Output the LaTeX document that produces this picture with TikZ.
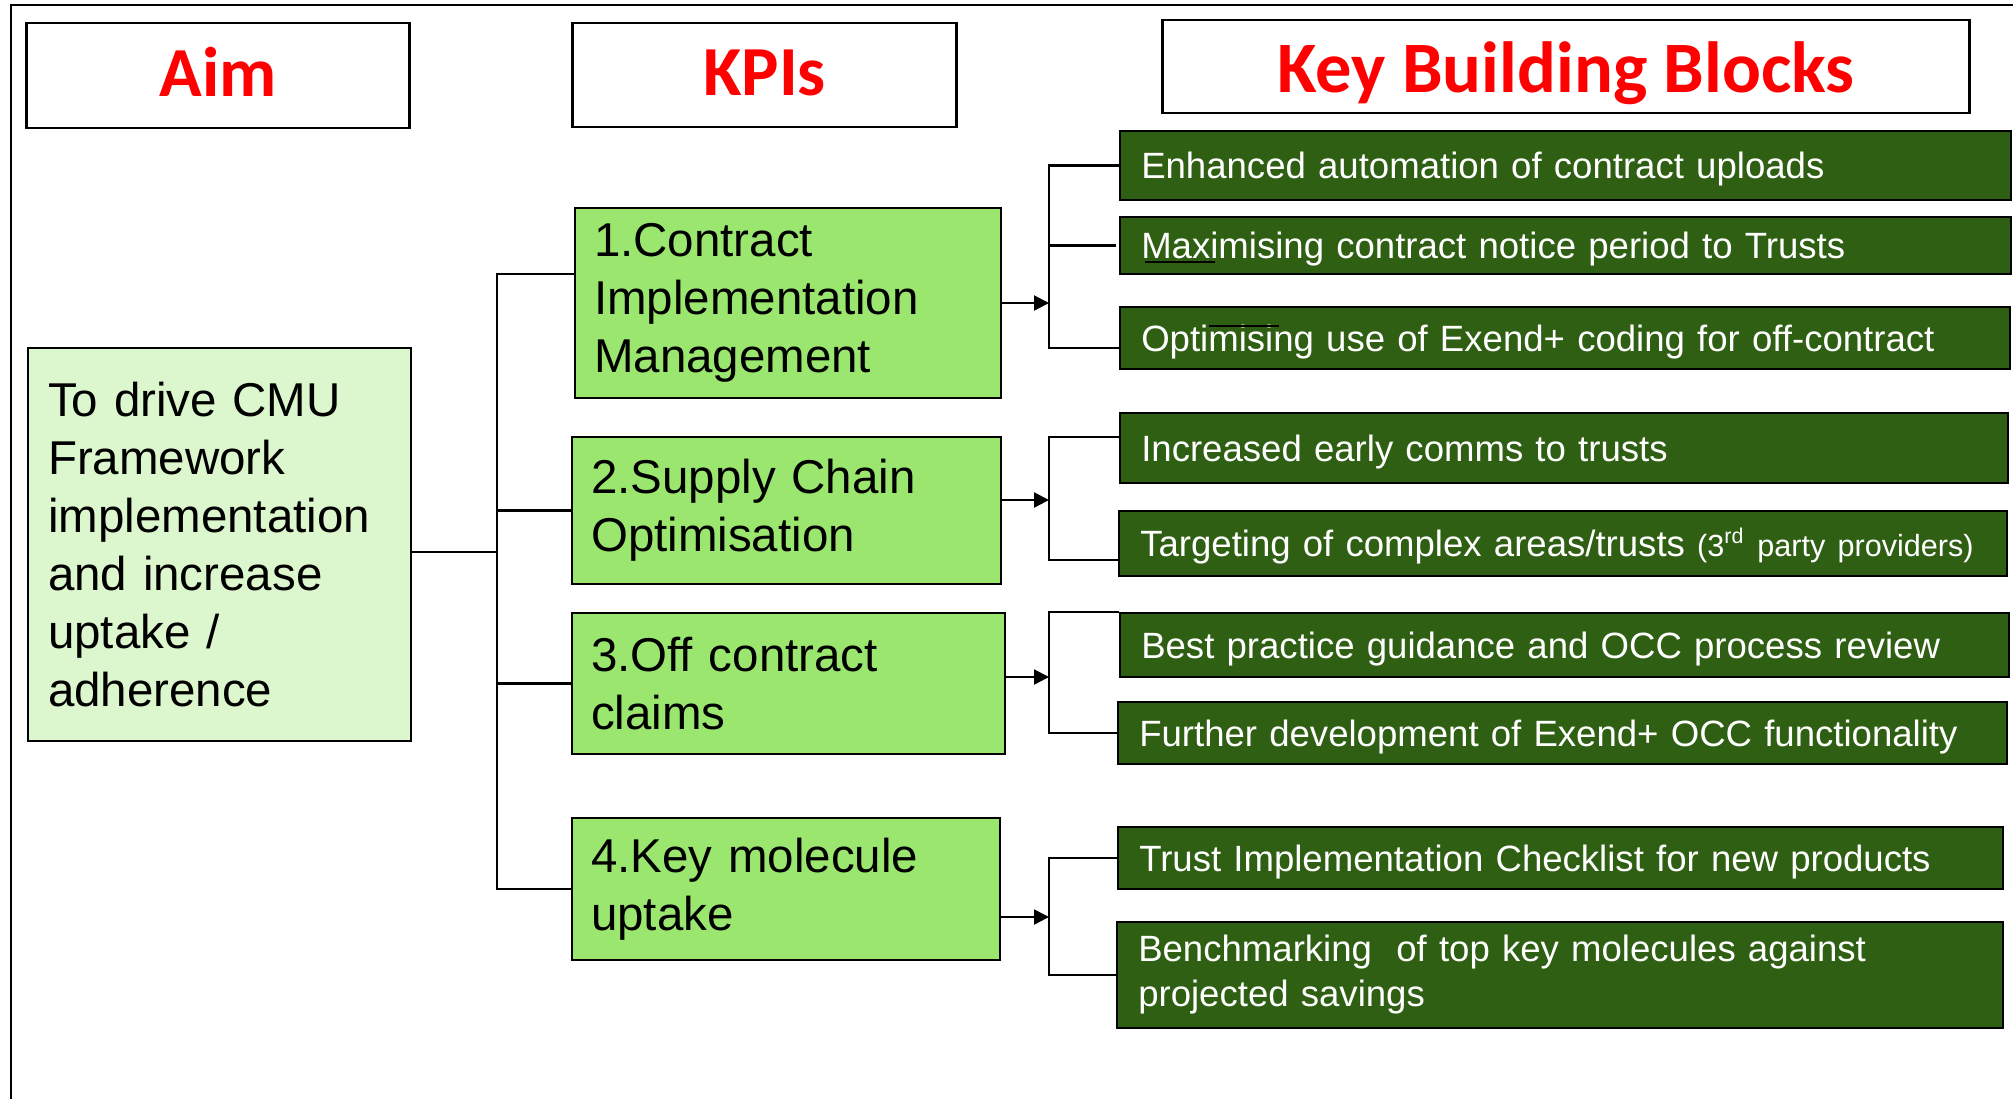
\documentclass[tikz,border=0pt]{standalone}
\usepackage{fontspec}
\setmainfont{Liberation Sans}
\newfontfamily\hdrfont{Carlito}
\usetikzlibrary{arrows.meta}

\begin{document}
\begin{tikzpicture}[x=0.01cm,y=-0.01cm,
  hdrbox/.style={draw,line width=0.8pt,fill=white,text=hdrred,inner sep=0pt,
    text height=0.41cm,text depth=0pt,font=\hdrfont\bfseries\fontsize{20}{24}\selectfont},
  aimbox/.style={draw,line width=0.6pt,fill=aimgreen,anchor=west,align=left,
    inner xsep=0.2cm,inner ysep=0pt,font=\fontsize{13.5}{16.5}\selectfont},
  kpibox/.style={draw,line width=0.6pt,fill=kpigreen,anchor=west,align=left,
    inner xsep=0.19cm,inner ysep=0pt,font=\fontsize{13.5}{16.5}\selectfont},
  blockbox/.style={draw,line width=0.7pt,fill=blockgreen,text=white,anchor=west,align=left,
    inner xsep=0.21cm,inner ysep=0pt,text height=9.6pt,text depth=2pt,
    font=\fontsize{10.4}{12.8}\selectfont},
  wire/.style={line width=0.6pt},
  feed/.style={line width=0.6pt,-{Triangle[length=0.15cm,width=0.15cm]}}]
\definecolor{hdrred}{RGB}{255,0,0}
\definecolor{aimgreen}{RGB}{220,246,205}
\definecolor{kpigreen}{RGB}{155,230,110}
\definecolor{blockgreen}{RGB}{47,95,19}
\useasboundingbox (0,0) rectangle (2013,1099);

% frame
\draw[wire] (2013,5) -- (11,5) -- (11,1099);

% column heads
\node[hdrbox,minimum width=3.82cm,minimum height=1.05cm] (aimhead) at (218,75.5) {Aim};
\node[hdrbox,minimum width=3.83cm,minimum height=1.04cm] (kpihead) at (764.5,75) {KPIs};
\node[hdrbox,text height=0.51cm,minimum width=8.06cm,minimum height=0.93cm,
  font=\hdrfont\bfseries\fontsize{20.6}{24}\selectfont] (blockhead) at (1566,66.5) {Key Building Blocks};

% aim
\node[aimbox,text width=3.43cm,minimum height=3.93cm] (aim) at (27,544.5)
  {To drive CMU\\Framework\\implementation\\and increase\\uptake /\\adherence};

% kpis
\node[kpibox,text width=3.88cm,minimum height=1.90cm] (kpi1) at (574,303) {1.Contract\\Implementation\\Management};
\node[kpibox,text width=3.91cm,minimum height=1.47cm] (kpi2) at (571,510.5) {2.Supply Chain\\Optimisation};
\node[kpibox,text width=3.95cm,minimum height=1.41cm] (kpi3) at (571,683.5) {3.Off contract\\claims};
\node[kpibox,text width=3.90cm,minimum height=1.42cm] (kpi4) at (571,889) {4.Key molecule\\uptake};

% building blocks
\node[blockbox,text width=8.48cm,minimum height=0.69cm] (kb1) at (1119,165.5) {Enhanced automation of contract uploads};
\node[blockbox,text width=8.48cm,minimum height=0.57cm] (kb2) at (1119,245.5) {Maximising contract notice period to Trusts};
\node[blockbox,text width=8.47cm,minimum height=0.62cm] (kb3) at (1119,338) {Optimising use of Exend+ coding for off-contract};
\node[blockbox,text width=8.45cm,minimum height=0.70cm] (kb4) at (1119,448) {Increased early comms to trusts};
\node[blockbox,text width=8.45cm,minimum height=0.65cm] (kb5) at (1118,543.5)
  {Targeting of complex areas/trusts {\fontsize{8.7}{10}\selectfont(3\textsuperscript{rd} party providers)}};
\node[blockbox,text width=8.46cm,minimum height=0.64cm] (kb6) at (1119,645) {Best practice guidance and OCC process review};
\node[blockbox,text width=8.46cm,minimum height=0.62cm] (kb7) at (1117,733) {Further development of Exend+ OCC functionality};
\node[blockbox,text width=8.42cm,minimum height=0.62cm] (kb8) at (1117,858) {Trust Implementation Checklist for new products};
\node[blockbox,text height=,text depth=,text width=8.43cm,minimum height=1.06cm] (kb9) at (1116,975)
  {Benchmarking\ \ of top key molecules against\\projected savings};

% aim to kpis
\coordinate (trunk) at (497,552);
\coordinate (j1) at (497,274);
\draw[wire] (aim.east |- trunk) -- (trunk);
\draw[wire] (kpi1.west |- j1) -| (kpi4.west -| j1) -- (kpi4.west);
\draw[wire] (kpi2.west -| j1) -- (kpi2.west);
\draw[wire] (kpi3.west -| j1) -- (kpi3.west);

% kpis to blocks
\coordinate (b1) at (1049,303);
\coordinate (b2) at (1049,500);
\coordinate (b3) at (1049,677);
\coordinate (b4) at (1049,917);
\draw[feed] (kpi1.east) -- (b1);
\draw[feed] (kpi2.east |- b2) -- (b2);
\draw[feed] (kpi3.east |- b3) -- (b3);
\draw[feed] (kpi4.east |- b4) -- (b4);
\draw[wire] (kb1.west) -| (b1) |- ([yshift=-0.1cm]kb3.west);
\draw[wire] (kb2.west -| b1) -- ([xshift=-0.03cm]kb2.west);
\draw[wire] ([yshift=0.11cm]kb4.west) -| (b2) |- ([yshift=-0.165cm]kb5.west);
\draw[wire] (kb6.north west) -| (b3) |- (kb7.west);
\draw[wire] (kb8.west) -| (b4) |- (kb9.west);

% stray rules over the text
\draw[line width=0.5pt] (1145,262) -- (1215,262);
\draw[line width=0.5pt] (1209,326) -- (1279,326);
\end{tikzpicture}
\end{document}
